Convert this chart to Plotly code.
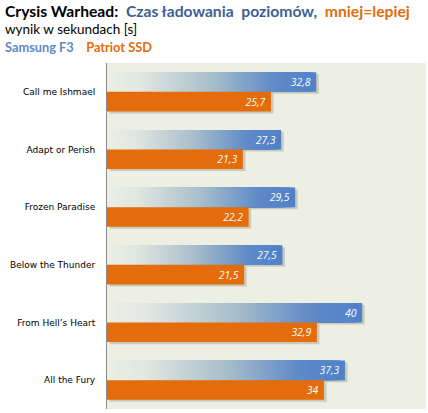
import plotly.graph_objects as go

categories = ["Call me Ishmael", "Adapt or Perish", "Frozen Paradise",
              "Below the Thunder", "From Hell\u2019s Heart", "All the Fury"]
samsung_f3 = [32.8, 27.3, 29.5, 27.5, 40, 37.3]
patriot_ssd = [25.7, 21.3, 22.2, 21.5, 32.9, 34]

BG = "#ECEFE1"
ORANGE = "#E46C0A"
BAR_W = 0.34
FONT = "Lato, 'Open Sans', sans-serif"

# gradient stops for the Samsung bars (fraction of bar length -> rgb)
stops = [(0.0, (234, 238, 228)), (0.15, (226, 232, 226)), (0.5, (168, 190, 203)),
         (0.8, (96, 138, 200)), (1.0, (79, 129, 201))]


def grad_colour(t):
    for (t0, c0), (t1, c1) in zip(stops, stops[1:]):
        if t <= t1:
            f = (t - t0) / (t1 - t0)
            return "rgb(%d,%d,%d)" % tuple(round(a + (b - a) * f) for a, b in zip(c0, c1))
    return "rgb(%d,%d,%d)" % stops[-1][1]


def label(v):
    return ("%g" % v).replace(".", ",") + "&nbsp;"


# gradient: stacked-from-zero bars, longest (darkest) first, shorter lighter ones on top
N = 60
seg_y, seg_x, seg_col = [], [], []
for k in range(N):
    for cat, v in zip(categories, samsung_f3):
        seg_y.append(cat)
        seg_x.append(v * (N - k) / N)
        seg_col.append(grad_colour((N - k - 0.5) / N))

fig = go.Figure()

# soft shadows
for vals, off in [(samsung_f3, -BAR_W + 0.035), (patriot_ssd, 0.035)]:
    fig.add_trace(go.Bar(y=categories, x=vals, orientation="h", width=BAR_W,
                         offset=off, base=0.4,
                         marker=dict(color="rgba(110,110,100,0.28)", line_width=0),
                         hoverinfo="skip", showlegend=False))

fig.add_trace(go.Bar(y=seg_y, x=seg_x, orientation="h",
                     width=BAR_W, offset=-BAR_W,
                     marker=dict(color=seg_col, line_width=0),
                     name="Samsung F3", hoverinfo="skip", showlegend=False))

text_font = dict(color="white", size=11.5, family="'Open Sans', sans-serif", style="italic")
fig.add_trace(go.Bar(y=categories, x=samsung_f3, orientation="h",
                     width=BAR_W, offset=-BAR_W,
                     marker=dict(color="rgba(0,0,0,0)", line_width=0),
                     text=[label(v) for v in samsung_f3], textposition="inside",
                     insidetextanchor="end", textangle=0, textfont=text_font,
                     name="Samsung F3", showlegend=False))
fig.add_trace(go.Bar(y=categories, x=patriot_ssd, orientation="h",
                     width=BAR_W, offset=0,
                     marker=dict(color=ORANGE, line_width=0),
                     text=[label(v) for v in patriot_ssd], textposition="inside",
                     insidetextanchor="end", textangle=0, textfont=text_font,
                     name="Patriot SSD", showlegend=False))

L, R, T, B = 107, 2, 63, 4
W, H = 428, 413

fig.update_layout(
    width=W, height=H,
    margin=dict(l=L, r=R, t=T, b=B),
    barmode="overlay",
    paper_bgcolor="white", plot_bgcolor=BG,
    font=dict(family=FONT, color="black"),
    xaxis=dict(range=[0, 50], showticklabels=False, showgrid=False,
               zeroline=False, showline=False, fixedrange=True, automargin=False),
    yaxis=dict(categoryorder="array", categoryarray=categories,
               autorange="reversed", showgrid=False, zeroline=False,
               showline=True, linecolor="#8C8C8C", linewidth=1,
               ticks="", ticklabelstandoff=9, automargin=False,
               tickfont=dict(size=9, family="'DejaVu Sans', sans-serif", color="black")),
)


def px_pos(x, y):
    # convert pixel position in the page to paper coords
    return (x - L) / (W - L - R), 1 + (T - y) / (H - T - B)


title_lines = [
    (11, "<b>Crysis Warhead:&nbsp; <span style='color:#3E5F93'>Czas ładowania&nbsp; poziomów,</span>"
         "&nbsp; <span style='color:#E46C0A'>mniej=lepiej</span></b>", 15.7),
    (29, "wynik w sekundach [s]", 13.5),
    (47, "<b><span style='color:#5E8AC7'>Samsung F3</span>&nbsp;&nbsp;&nbsp; "
         "<span style='color:#E46C0A'>Patriot SSD</span></b>", 12.8),
]
for y, txt, size in title_lines:
    ax, ay = px_pos(3, y)
    fig.add_annotation(x=ax, y=ay, xref="paper", yref="paper", showarrow=False,
                       xanchor="left", yanchor="middle", text=txt,
                       font=dict(size=size, family=FONT))

fig.write_html("out.html", config={"displayModeBar": False},
               post_script="document.body.style.margin='0';")
